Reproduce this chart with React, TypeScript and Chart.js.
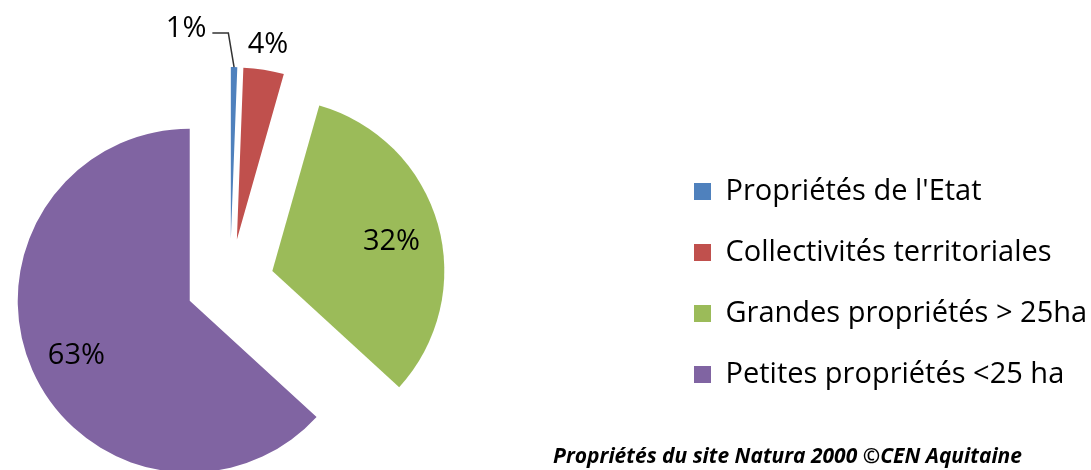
import React, { useEffect, useRef } from 'react';
import { Chart, registerables, ArcElement } from 'chart.js';

Chart.register(...registerables);

// ---- data ----
const categories = [
  "Propriétés de l'Etat",
  'Collectivités territoriales',
  'Grandes propriétés > 25ha',
  'Petites propriétés <25 ha',
];
const shares = [0.6, 3.8, 32.4, 63.2];
const sliceColors = ['#4F81BD', '#C0504D', '#9BBB59', '#8064A2'];
const labelModes = ['leader', 'outside', 'inside', 'inside'];
const caption = 'Propriétés du site Natura 2000 ©CEN Aquitaine';

// ---- style / layout ----
const EXPLODE = 44;
const RADIUS = 172;
const FONT = '"Open Sans", "Noto Sans", sans-serif';
const LABEL_SIZE = 29;
const CAP = 20;
const SHIFT_X = 202; // canvas is shifted left so the pie sits near the left edge
const CANVAS_W = 1333;
const CANVAS_H = 518;
const LEGEND_LEFT = 864;
const BOX = 17;
const LEG_PAD = 32;

class ExplodedArc extends ArcElement {
  static id = 'explodedArc';
  draw(ctx: CanvasRenderingContext2D) {
    const self: any = this;
    const mid = (self.startAngle + self.endAngle) / 2;
    ctx.save();
    ctx.translate(Math.cos(mid) * EXPLODE, Math.sin(mid) * EXPLODE);
    super.draw(ctx);
    ctx.restore();
  }
}
Chart.register(ExplodedArc);
(Chart.defaults as any).datasets.pie.dataElementType = 'explodedArc';

const labelPlugin = {
  id: 'sliceLabels',
  afterDatasetsDraw(chart: any) {
    const ctx: CanvasRenderingContext2D = chart.ctx;
    const meta = chart.getDatasetMeta(0);
    ctx.save();
    ctx.font = `${LABEL_SIZE}px ${FONT}`;
    ctx.fillStyle = '#000';
    ctx.strokeStyle = '#333';
    ctx.lineWidth = 1.5;
    meta.data.forEach((arc: any, i: number) => {
      const { x, y, startAngle, endAngle, outerRadius } = arc;
      const mid = (startAngle + endAngle) / 2;
      const ax = x + Math.cos(mid) * EXPLODE;
      const ay = y + Math.sin(mid) * EXPLODE;
      const text = Math.round(shares[i]) + '%';
      const mode = labelModes[i];
      if (mode === 'inside') {
        const r = outerRadius * 0.72;
        ctx.textAlign = 'center';
        ctx.fillText(text, ax + Math.cos(mid) * r, ay + Math.sin(mid) * r + CAP / 2 + 3);
      } else if (mode === 'outside') {
        const r = outerRadius + 27;
        ctx.textAlign = 'center';
        ctx.fillText(text, ax + Math.cos(mid) * r, ay + Math.sin(mid) * r + CAP / 2);
      } else {
        const p0x = ax + Math.cos(mid) * outerRadius;
        const p0y = ay + Math.sin(mid) * outerRadius;
        const ea = startAngle - 0.012;
        const er = outerRadius + 34;
        const ex = ax + Math.cos(ea) * er;
        const ey = ay + Math.sin(ea) * er;
        ctx.beginPath();
        ctx.moveTo(p0x, p0y);
        ctx.lineTo(ex, ey);
        ctx.lineTo(ex - 16, ey);
        ctx.stroke();
        ctx.textAlign = 'right';
        ctx.fillText(text, ex - 22, ey + 4);
      }
    });
    ctx.font = `italic bold 21px ${FONT}`;
    ctx.textAlign = 'right';
    ctx.fillText(caption, 1022 + SHIFT_X, 463);
    ctx.restore();
  },
};

function legendWidth(): number {
  const c = document.createElement('canvas').getContext('2d')!;
  c.font = `${LABEL_SIZE}px ${FONT}`;
  const tw = Math.max(...categories.map((t) => c.measureText(t).width));
  return LEG_PAD + BOX + LABEL_SIZE / 2 + tw + 10;
}

export default function App() {
  const ref = useRef<HTMLCanvasElement | null>(null);
  useEffect(() => {
    if (!ref.current) return;
    const rightPad = Math.max(0, CANVAS_W - LEGEND_LEFT - legendWidth());
    const chart = new Chart(ref.current, {
      type: 'pie',
      data: {
        labels: categories,
        datasets: [
          {
            data: shares,
            backgroundColor: sliceColors,
            borderWidth: 0,
            clip: false as any,
          },
        ],
      },
      options: {
        responsive: false,
        animation: false,
        events: [],
        radius: RADIUS,
        layout: { padding: { left: 0, right: rightPad, top: 48, bottom: 0 } },
        plugins: {
          tooltip: { enabled: false },
          legend: {
            position: 'right',
            labels: {
              boxWidth: BOX,
              boxHeight: BOX,
              padding: LEG_PAD,
              color: '#000',
              font: { family: FONT, size: LABEL_SIZE },
            },
          },
        },
      } as any,
      plugins: [labelPlugin],
    });
    return () => chart.destroy();
  }, []);
  return (
    <div
      style={{
        position: 'absolute',
        left: 0,
        top: 0,
        width: 1091,
        height: 470,
        overflow: 'hidden',
        background: '#fff',
      }}
    >
      <canvas
        ref={ref}
        width={CANVAS_W}
        height={CANVAS_H}
        style={{ display: 'block', position: 'absolute', left: -SHIFT_X, top: 0 }}
      />
    </div>
  );
}
